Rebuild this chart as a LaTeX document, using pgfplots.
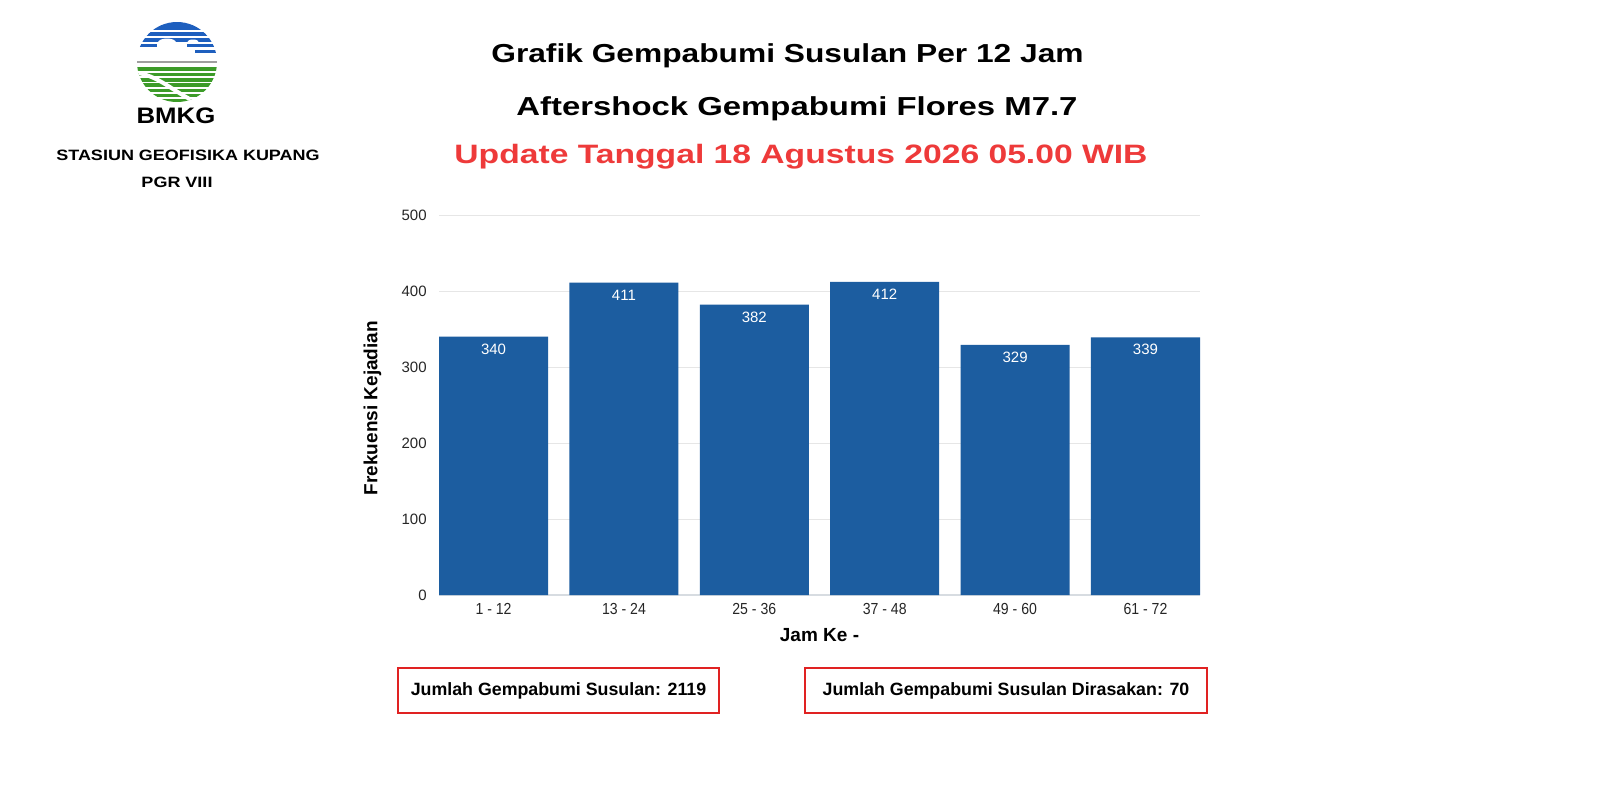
\documentclass[border=0pt]{standalone}
\usepackage{pgfplots}
\pgfplotsset{compat=1.18}
\usepackage{fontspec}
\setmainfont{Liberation Sans}
\newfontfamily\condfont[FakeStretch=0.88]{Liberation Sans}
\definecolor{barblue}{RGB}{28,93,160}
\definecolor{titlered}{RGB}{238,58,58}
\definecolor{boxred}{RGB}{224,34,34}
\definecolor{gridgray}{RGB}{230,230,230}
\definecolor{basegray}{RGB}{215,220,225}
\definecolor{bmkgblue}{RGB}{30,95,190}
\definecolor{bmkggreen}{RGB}{60,155,40}
\begin{document}
\begin{tikzpicture}
\path[fill=white,use as bounding box] (0,0) rectangle (800pt,-400pt);
\begin{axis}[
  at={(219.5pt,-297.5pt)}, anchor=south west,
  scale only axis, width=380.5pt, height=190pt,
  xmin=-0.4183, xmax=5.4183, ymin=0, ymax=500,
  ytick={0,100,200,300,400,500},
  xtick={0,1,2,3,4,5},
  xticklabels={1 - 12,13 - 24,25 - 36,37 - 48,49 - 60,61 - 72},
  /pgf/number format/assume math mode=true,
  axis x line*=bottom, axis y line*=left,
  x axis line style={draw=basegray, line width=0.6pt},
  y axis line style={draw=none},
  major tick length=0pt, tick style={draw=none},
  ymajorgrids, grid style={draw=gridgray, line width=0.5pt},
  yticklabel style={anchor=east, inner sep=0pt, xshift=-6pt, font=\fontsize{7.5}{9}\selectfont, text=black!85},
  xticklabel style={anchor=north, inner sep=0pt, yshift=-4.1pt, font=\condfont\fontsize{8}{9}\selectfont, text=black!85},
  ylabel={Frekuensi Kejadian},
  ylabel style={at={(axis description cs:-0.0874,0.492)}, anchor=center, font=\bfseries\fontsize{9.5}{11}\selectfont},
  xlabel={Jam Ke -},
  xlabel style={at={(axis description cs:0.5,-0.1045)}, anchor=center, font=\bfseries\fontsize{9.5}{11}\selectfont},
]
\addplot[ybar, bar width=0.8366, bar shift=0pt, fill=barblue, draw=none,
  nodes near coords,
  every node near coord/.append style={anchor=north, text=white, font=\fontsize{7.5}{9}\selectfont}]
  coordinates {(0,340) (1,411) (2,382) (3,412) (4,329) (5,339)};
\end{axis}
\begin{scope}[x=0.5pt,y=-0.5pt]
  % titles
  \node[anchor=base, font=\bfseries\fontsize{13}{15}\selectfont, xscale=1.22, inner sep=0pt] at (787.5,62) {Grafik Gempabumi Susulan Per 12 Jam};
  \node[anchor=base, font=\bfseries\fontsize{13}{15}\selectfont, xscale=1.265, inner sep=0pt] at (797,115) {Aftershock Gempabumi Flores M7.7};
  \node[anchor=base, font=\bfseries\fontsize{13.3}{15}\selectfont, xscale=1.265, text=titlered, inner sep=0pt] at (801,163.5) {Update Tanggal 18 Agustus 2026 05.00 WIB};
  % boxes
  \draw[boxred, line width=1pt] (398,668) rectangle (719,713);
  \draw[boxred, line width=1pt] (805,668) rectangle (1207,713);
  \node[font=\bfseries\fontsize{8.9}{10}\selectfont, inner sep=0pt] at (558.5,691) {Jumlah Gempabumi Susulan: 2119};
  \node[font=\bfseries\fontsize{8.9}{10}\selectfont, inner sep=0pt] at (1006,691) {Jumlah Gempabumi Susulan Dirasakan: 70};
  % logo
  \begin{scope}
    \clip (177,62) circle (40);
    \fill[bmkgblue] (130,18) rectangle (230,30);
    \fill[bmkgblue] (130,32.2) rectangle (230,36);
    \fill[bmkgblue] (130,37.8) rectangle (230,41.5);
    \fill[white] (167,42.5) ellipse (9 and 4);
    \fill[white] (193,42.5) ellipse (6 and 3);
    \fill[bmkgblue] (130,43.5) rectangle (157,47);
    \fill[bmkgblue] (187,43.5) rectangle (230,47);
    \fill[bmkgblue] (195,49.5) rectangle (230,53);
    \fill[gray!75] (130,61.3) rectangle (230,62.8);
    \foreach \y in {67,72.5,78,83,88.5,93.5,98.5}{\fill[bmkggreen] (130,\y) rectangle (230,\y+3.6);}
    \draw[white, line width=2pt] (132,72) .. controls (160,75) and (172,92) .. (200,104);
  \end{scope}
  \node[anchor=base, font=\bfseries\fontsize{11.2}{12}\selectfont, xscale=1.15, inner sep=0pt] at (176,123) {BMKG};
  \node[anchor=base, font=\bfseries\fontsize{7.5}{9}\selectfont, xscale=1.2, inner sep=0pt] at (188,160) {STASIUN GEOFISIKA KUPANG};
  \node[anchor=base, font=\bfseries\fontsize{7.5}{9}\selectfont, xscale=1.2, inner sep=0pt] at (177,187) {PGR VIII};
\end{scope}
\end{tikzpicture}
\end{document}
